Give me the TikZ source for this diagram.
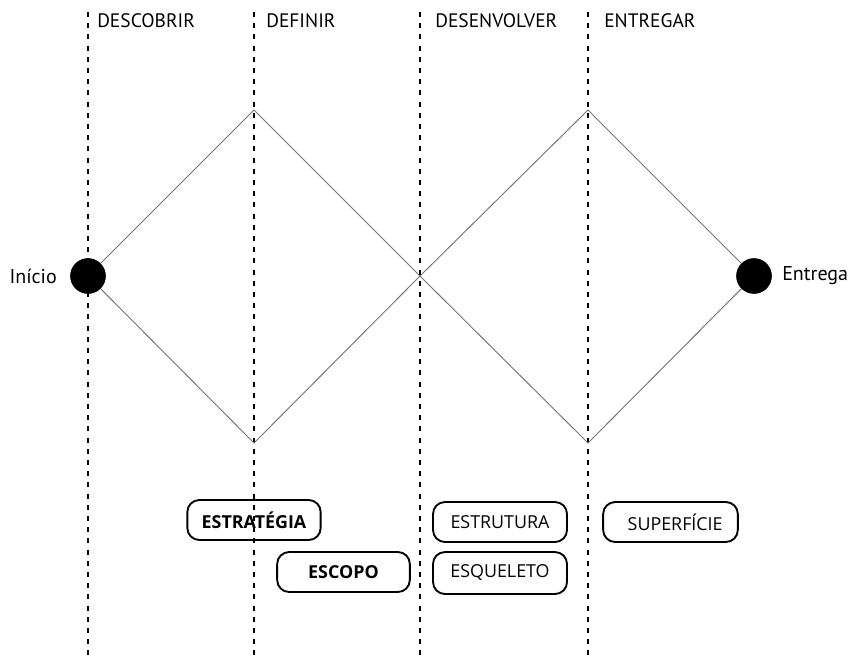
\documentclass[tikz,border=0pt]{standalone}
\usepackage{fontspec}
\setmainfont{PT Sans}
\newfontfamily\boxfont{Open Sans}
\begin{document}
\begin{tikzpicture}[x=0.75pt,y=-0.75pt,
  guide/.style={line width=1.6pt, dash pattern=on 3.8pt off 4.6pt},
  diag/.style={draw=black!55, line width=0.7pt},
  endpt/.style={circle, fill=black, inner sep=0pt, minimum size=26.5pt},
  phase/.style={anchor=base west, inner sep=0pt, font=\fontsize{14.6}{17}\selectfont},
  endlabel/.style={inner sep=0pt, font=\fontsize{15}{18}\selectfont},
  layer/.style={draw, line width=1.4pt, rounded corners=9pt, inner sep=0pt,
    minimum height=30pt, font=\boxfont\fontsize{13.4}{16}\selectfont},
  layerbold/.style={layer, font=\boxfont\bfseries\fontsize{13.4}{16}\selectfont},
]
\useasboundingbox (0,0) rectangle (849,658);
% guides
\coordinate (g1t) at (88,12); \coordinate (g1b) at (88,658);
\coordinate (g2t) at (254,12); \coordinate (g2b) at (254,658);
\coordinate (g3t) at (420,12); \coordinate (g3b) at (420,658);
\coordinate (g4t) at (588,12); \coordinate (g4b) at (588,658);
\draw[guide] (g1t) -- (g1b);
\draw[guide] (g2t) -- (g2b);
\draw[guide] (g3t) -- (g3b);
\draw[guide] (g4t) -- (g4b);
% phase labels
\node[phase] (p1) at (97,27) {DESCOBRIR};
\node[phase] (p2) at (266,27) {DEFINIR};
\node[phase] (p3) at (435,27) {DESENVOLVER};
\node[phase] (p4) at (604,27) {ENTREGAR};
% diamonds
\coordinate (t1) at (254,110);
\coordinate (b1) at (254,443);
\coordinate (m) at (420,276);
\coordinate (t2) at (588,110);
\coordinate (b2) at (588,443);
\node[endpt] (ini) at (88,276) {};
\node[endpt] (ent) at (754,276) {};
\draw[diag] (ini.center) -- (t1) -- (m) -- (b2) -- (ent.center);
\draw[diag] (ini.center) -- (b1) -- (m) -- (t2) -- (ent.center);
\node[endpt] at (88,276) {};
\node[endpt] at (754,276) {};
\node[endlabel, anchor=east] (lini) at (57,276) {Início};
\node[endlabel, anchor=west] (lent) at (782,276) {Entrega};
% layer boxes
\node[layerbold, minimum width=100pt] (estr) at (254,520) {ESTRATÉGIA};
\node[layerbold, minimum width=99.5pt] (esc) at (343.5,572) {ESCOPO};
\node[layer, minimum width=100.5pt] (estru) at (500,522) {ESTRUTURA};
\node[layer, minimum width=100.5pt, minimum height=31.5pt] (esq) at (500,573) {ESQUELETO};
\node[layer, minimum width=101pt] (sup) at (670.5,522) {\hspace*{7pt}SUPERFÍCIE};
\end{tikzpicture}
\end{document}
